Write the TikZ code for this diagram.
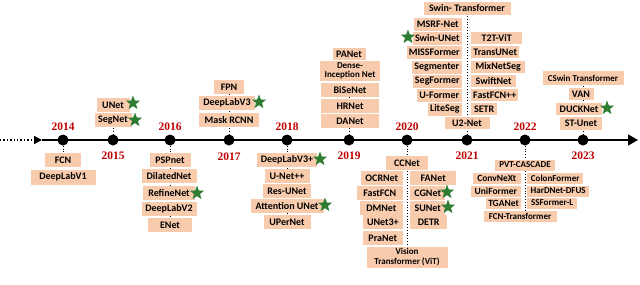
\documentclass[tikz,border=0pt]{standalone}
\usepackage{fontspec}
\setmainfont{Liberation Serif}
\newfontfamily\boxfont{Carlito}
\usetikzlibrary{shapes.geometric,arrows.meta,backgrounds}
\definecolor{peach}{HTML}{F8CBAD}
\definecolor{yearred}{HTML}{C00000}
\definecolor{stargreen}{HTML}{2E7D32}
\begin{document}
\begin{tikzpicture}[x=1pt,y=-1pt,
 bx/.style={fill=peach, inner xsep=2pt, inner ysep=0pt, minimum height=14pt, font=\boxfont\bfseries\fontsize{10}{11}\selectfont},
 sbx/.style={bx, font=\boxfont\bfseries\fontsize{9}{10}\selectfont},
 mbx/.style={bx, font=\boxfont\bfseries\fontsize{9.5}{10}\selectfont},
 yr/.style={font=\bfseries\fontsize{11.5}{12}\selectfont, text=yearred, inner sep=0pt},
 dot/.style={circle, fill=black, minimum size=11pt, inner sep=0pt},
 gstar/.style={star, star points=5, star point ratio=2.4, fill=stargreen, minimum size=15pt, inner sep=0pt},
 link/.style={dotted, line width=0.8pt},
]
\useasboundingbox (0,0) rectangle (640,284);

% timeline
\coordinate (tl0) at (0,140);
\coordinate (tlA) at (42,140);
\coordinate (tlE) at (638,140);
\draw[line width=1.4pt, dotted] (tl0) -- (36,140);
\draw[line width=1.4pt, -{Triangle[length=8pt,width=8pt]}] (34,140) -- (tlA);
\draw[line width=1.4pt, -{Triangle[length=10pt,width=11pt]}] (tlA) -- (tlE);

% dots and years
\node[dot] (d14) at (63,140) {};
\node[dot] (d15) at (113,140) {};
\node[dot] (d16) at (170,140) {};
\node[dot] (d17) at (229,140) {};
\node[dot] (d18) at (287,140) {};
\node[dot] (d19) at (349,140) {};
\node[dot] (d20) at (407,140) {};
\node[dot] (d21) at (467,140) {};
\node[dot] (d22) at (525,140) {};
\node[dot] (d23) at (583,140) {};
\node[yr] (y14) at (63,127) {2014};
\node[yr] (y15) at (113,156) {2015};
\node[yr] (y16) at (170,127) {2016};
\node[yr] (y17) at (229,157) {2017};
\node[yr] (y18) at (287,127) {2018};
\node[yr] (y19) at (349,156) {2019};
\node[yr] (y20) at (407,127) {2020};
\node[yr] (y21) at (467,156) {2021};
\node[yr] (y22) at (525,127) {2022};
\node[yr] (y23) at (583,156) {2023};

% 2014
\node[bx, minimum width=36pt] (fcn) at (63,160) {FCN};
\node[bx, minimum width=65pt, minimum height=15pt] (dlv1) at (63,177) {DeepLabV1};
% 2015
\node[bx, minimum width=37pt] (segnet) at (113,120) {SegNet};
\node[bx, minimum width=33pt] (unet) at (113,105) {UNet};
\node[gstar] (s1) at (133,103) {};
\node[gstar] (s2) at (135,120) {};
% 2016
\node[bx, minimum width=41pt] (psp) at (170,160) {PSPnet};
\node[bx, minimum width=55pt] (dilated) at (169,176) {DilatedNet};
\node[bx, minimum width=52pt] (refine) at (169,193) {RefineNet};
\node[bx, minimum width=55pt] (dlv2) at (169,209) {DeepLabV2};
\node[bx, minimum width=44pt] (enet) at (170,225) {ENet};
\node[gstar] (s3) at (197,193) {};
% 2017
\node[bx, minimum width=60pt] (mask) at (229,120) {Mask RCNN};
\node[bx, minimum width=56pt] (dlv3) at (227,103) {DeepLabV3};
\node[bx, minimum width=30pt] (fpn) at (229,87) {FPN};
\node[gstar] (s4) at (259,102) {};
% 2018
\node[bx, minimum width=60pt] (dlv3p) at (287,160) {DeepLabV3+};
\node[bx, minimum width=45pt] (unetpp) at (287,176) {U-Net++};
\node[bx, minimum width=48pt] (resunet) at (287,191) {Res-UNet};
\node[bx, minimum width=73pt] (attunet) at (287,206) {Attention UNet};
\node[bx, minimum width=47pt] (upernet) at (287,222) {UPerNet};
\node[gstar] (s5) at (320,159) {};
\node[gstar] (s6) at (325,205) {};
% 2019
\node[bx, minimum width=58pt] (danet) at (350,121) {DANet};
\node[bx, minimum width=58pt] (hrnet) at (350,106) {HRNet};
\node[bx, minimum width=58pt] (bisenet) at (350,90) {BiSeNet};
\node[sbx, minimum width=60pt, minimum height=20pt, align=center, font=\boxfont\bfseries\fontsize{9}{9.5}\selectfont] (dense) at (350,71) {Dense-\\Inception Net};
\node[bx, minimum width=33pt, minimum height=12pt] (panet) at (349,54) {PANet};
% 2020
\node[bx, minimum width=42pt] (ccnet) at (407,163) {CCNet};
\node[bx, anchor=east, minimum width=42pt] (ocrnet) at (403,178) {OCRNet};
\node[bx, anchor=east, minimum width=46pt] (fastfcn) at (403,193) {FastFCN};
\node[bx, anchor=east, minimum width=43pt] (dmnet) at (403,208) {DMNet};
\node[bx, anchor=east, minimum width=40pt] (unet3) at (403,222) {UNet3+};
\node[bx, anchor=east, minimum width=40pt] (pranet) at (403,238) {PraNet};
\node[bx, anchor=west, minimum width=46pt] (fanet) at (410,178) {FANet};
\node[bx, anchor=west, minimum width=35pt] (cgnet) at (410,193) {CGNet};
\node[bx, anchor=west, minimum width=35pt] (sunet) at (410,208) {SUNet};
\node[bx, anchor=west, minimum width=37pt] (detr) at (410,222) {DETR};
\node[gstar] (s7) at (447,192) {};
\node[gstar] (s8) at (448,207) {};
\node[sbx, minimum width=81pt, minimum height=21pt, align=center, font=\boxfont\bfseries\fontsize{9}{10.5}\selectfont] (vit) at (407,257) {Vision\\Transformer (ViT)};
% 2021
\node[bx, minimum width=45pt, minimum height=12pt] (u2net) at (467,123) {U2-Net};
\node[bx, anchor=east, minimum width=48pt, minimum height=13pt] (msrf) at (462,24) {MSRF-Net};
\node[bx, anchor=east, minimum width=49pt, minimum height=13pt] (swinunet) at (462,38) {Swin-UNet};
\node[bx, anchor=east, minimum width=55pt, minimum height=13pt] (miss) at (462,52) {MISSFormer};
\node[bx, anchor=east, minimum width=50pt, minimum height=13pt] (segmenter) at (462,67) {Segmenter};
\node[bx, anchor=east, minimum width=49pt, minimum height=13pt] (segformer) at (462,81) {SegFormer};
\node[bx, anchor=east, minimum width=45pt, minimum height=13pt] (uformer) at (462,95) {U-Former};
\node[bx, anchor=east, minimum width=34pt, minimum height=13pt] (liteseg) at (462,109) {LiteSeg};
\node[bx, anchor=west, minimum width=51pt, minimum height=12pt] (t2t) at (471,38) {T2T-ViT};
\node[bx, anchor=west, minimum width=48pt, minimum height=12pt] (transunet) at (471,52) {TransUNet};
\node[bx, anchor=west, minimum width=54pt, minimum height=12pt] (mixnet) at (471,67) {MixNetSeg};
\node[bx, anchor=west, minimum width=45pt, minimum height=12pt] (swiftnet) at (471,81) {SwiftNet};
\node[bx, anchor=west, minimum width=47pt, minimum height=12pt] (fastfcnpp) at (471,95) {FastFCN++};
\node[bx, anchor=west, minimum width=26pt, minimum height=12pt] (setr) at (471,109) {SETR};
\node[gstar] (s9) at (408,37) {};
\node[bx, minimum width=87pt, minimum height=13pt] (swint) at (467,8) {Swin- Transformer};
% 2022
\node[sbx, minimum width=60pt, minimum height=11pt] (pvt) at (525,165) {PVT-CASCADE};
\node[mbx, anchor=east, minimum width=48pt, minimum height=11pt] (convnext) at (521,178) {ConvNeXt};
\node[mbx, anchor=east, minimum width=50pt, minimum height=11pt] (uniformer) at (521,191) {UniFormer};
\node[mbx, anchor=east, minimum width=34pt, minimum height=11pt] (tganet) at (521,203) {TGANet};
\node[sbx, minimum width=73pt, minimum height=11pt] (fcnt) at (520,216) {FCN-Transformer};
\node[sbx, anchor=west, minimum width=56pt, minimum height=11pt] (colon) at (527,178) {ColonFormer};
\node[sbx, anchor=west, minimum width=62pt, minimum height=11pt] (hardnet) at (527,191) {HarDNet-DFUS};
\node[sbx, anchor=west, minimum width=50pt, minimum height=11pt] (ssformer) at (527,203) {SSFormer-L};
% 2023
\node[bx, minimum width=42pt, minimum height=13pt] (stunet) at (581,123) {ST-Unet};
\node[bx, minimum width=46pt, minimum height=12pt] (ducknet) at (579,109) {DUCKNet};
\node[bx, minimum width=25pt, minimum height=12pt] (van) at (581,94) {VAN};
\node[sbx, minimum width=81pt, minimum height=14pt] (cswin) at (583,78) {CSwin Transformer};
\node[gstar] (s10) at (607,108) {};

% dotted links
\begin{scope}[on background layer]
\draw[link] (d14) -- (fcn);
\draw[link] (d15) -- (d15 |- unet.south);
\draw[link] (d16) -- (d16 |- enet.north);
\draw[link] (d17) -- (d17 |- fpn.south);
\draw[link] (d18) -- (d18 |- upernet.north);
\draw[link] (d19) -- (d19 |- panet.south);
\draw[link] (d20) -- (d20 |- vit.north);
\draw[link] (d21) -- (d21 |- swint.south);
\draw[link] (d22) -- (d22 |- fcnt.north);
\draw[link] (d23) -- (d23 |- cswin.south);
\end{scope}
\end{tikzpicture}
\end{document}
